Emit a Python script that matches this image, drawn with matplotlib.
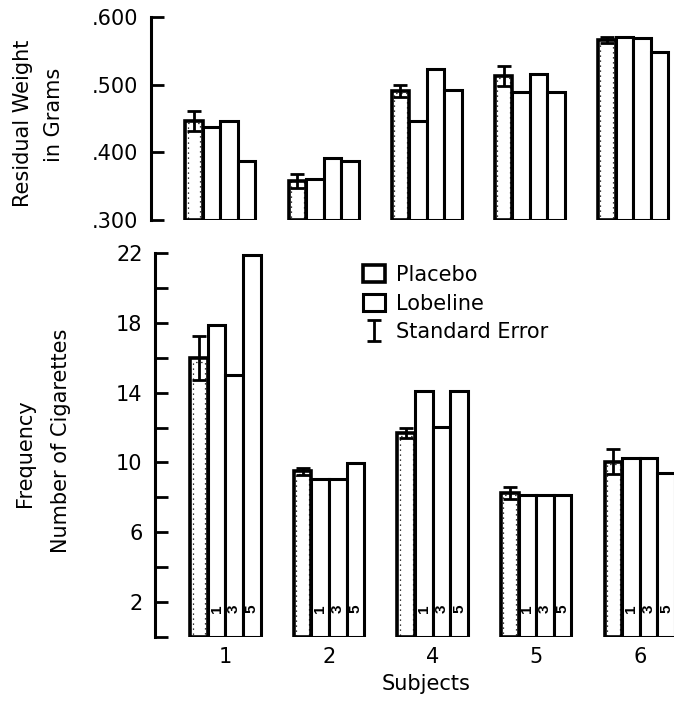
import matplotlib
matplotlib.use('Agg')
import matplotlib.pyplot as plt
import numpy as np
from matplotlib.patches import Patch

# ---------------- data ----------------
subjects = ['1', '2', '4', '5', '6']
dose_labels = ['1', '3', '5']

weight_placebo = [0.446, 0.358, 0.491, 0.513, 0.566]
weight_placebo_se = [0.015, 0.010, 0.009, 0.015, 0.005]
weight_lob1 = [0.437, 0.360, 0.447, 0.489, 0.571]
weight_lob3 = [0.446, 0.392, 0.523, 0.516, 0.569]
weight_lob5 = [0.387, 0.387, 0.492, 0.489, 0.549]

freq_placebo = [16.0, 9.5, 11.7, 8.25, 10.05]
freq_placebo_se = [1.25, 0.2, 0.3, 0.35, 0.7]
freq_lob1 = [17.9, 9.05, 14.1, 8.15, 10.25]
freq_lob3 = [15.0, 9.05, 12.05, 8.15, 10.25]
freq_lob5 = [21.9, 9.95, 14.1, 8.15, 9.4]

weight_ticks = [0.300, 0.400, 0.500, 0.600]
weight_ticklabels = ['.300', '.400', '.500', '.600']
freq_ticks = [0, 2, 4, 6, 8, 10, 12, 14, 16, 18, 20, 22]
freq_ticklabels = ['', '2', '', '6', '', '10', '', '14', '', '18', '', '22']

# ---------------- style ----------------
plt.rcParams['font.family'] = ['DejaVu Sans']
FS = 15
LW = 2.2
W = 0.17
OFFS = [-1.5, -0.5, 0.5, 1.5]

FW, FH = 674, 703
fig = plt.figure(figsize=(FW / 100, FH / 100), dpi=100)


def px_axes(left, top, right, bottom):
    return fig.add_axes([left / FW, 1 - bottom / FH, (right - left) / FW, (bottom - top) / FH])


ax1 = px_axes(151, 17, 674, 220)
ax2 = px_axes(155, 253, 674, 637)


def draw_panel(ax, plac, se, lobs, base):
    x = np.arange(len(subjects))
    xp = x + OFFS[0] * W
    plac = np.asarray(plac)
    ax.bar(xp, plac - base, W, bottom=base, facecolor='white', edgecolor='black',
           linewidth=LW + 0.4, zorder=2)
    ax.bar(xp, (plac - base) * 0.985, W * 0.72, bottom=base, fill=False, edgecolor='black',
           linewidth=0.9, linestyle=(0, (1, 3)), zorder=3)
    for k, vals in enumerate(lobs):
        vals = np.asarray(vals)
        ax.bar(x + OFFS[k + 1] * W, vals - base, W, bottom=base, facecolor='white',
               edgecolor='black', linewidth=LW, zorder=2)
    eb = ax.errorbar(xp, plac, yerr=se, fmt='none', ecolor='black', elinewidth=2,
                     capsize=5, capthick=2, zorder=4)
    return eb


draw_panel(ax1, weight_placebo, weight_placebo_se,
           [weight_lob1, weight_lob3, weight_lob5], 0.300)
eb = draw_panel(ax2, freq_placebo, freq_placebo_se,
                [freq_lob1, freq_lob3, freq_lob5], 0.0)

# dose labels inside lobeline bars
for i in range(len(subjects)):
    for k, lab in enumerate(dose_labels):
        ax2.text(i + OFFS[k + 1] * W, 1.6, lab, rotation=90, ha='center', va='center',
                 fontsize=11, fontweight='bold', family=['Liberation Sans'], zorder=5)

for ax in (ax1, ax2):
    for s in ('top', 'right', 'bottom'):
        ax.spines[s].set_visible(False)
    ax.spines['left'].set_linewidth(LW)
    ax.tick_params(axis='y', direction='in', length=9, width=2, labelsize=FS, pad=9)

ax1.set_ylim(0.300, 0.600)
ax1.set_yticks(weight_ticks)
ax1.set_yticklabels(weight_ticklabels)
ax1.set_xlim(-0.673, 4.397)
ax1.set_xticks([])

ax2.set_ylim(0, 22)
ax2.set_yticks(freq_ticks)
ax2.set_yticklabels(freq_ticklabels)
ax2.set_xlim(-0.679, 4.33)
ax2.set_xticks(np.arange(len(subjects)))
ax2.set_xticklabels(subjects)
ax2.tick_params(axis='x', length=0, labelsize=FS, pad=7)

# axis titles
fig.text(23 / FW, 1 - 123 / FH, 'Residual Weight', rotation=90, ha='center', va='center', fontsize=FS)
fig.text(54 / FW, 1 - 115 / FH, 'in Grams', rotation=90, ha='center', va='center', fontsize=FS)
fig.text(25 / FW, 1 - 453 / FH, 'Frequency', rotation=90, ha='center', va='center', fontsize=FS)
fig.text(61 / FW, 1 - 441 / FH, 'Number of Cigarettes', rotation=90, ha='center', va='center', fontsize=FS)
fig.text(426 / FW, 1 - 684 / FH, 'Subjects', ha='center', va='center', fontsize=FS)

# legend
h_plac = Patch(facecolor='white', edgecolor='black', linewidth=LW + 0.4)
h_lob = Patch(facecolor='white', edgecolor='black', linewidth=LW)
ax2.legend(handles=[h_plac, h_lob, eb], labels=['Placebo', 'Lobeline', 'Standard Error'],
           loc='upper left', bbox_to_anchor=(363 / FW, 1 - 265 / FH),
           bbox_transform=fig.transFigure, frameon=False, fontsize=FS,
           handlelength=1.05, handleheight=0.87, handletextpad=0.55,
           labelspacing=0.42, borderpad=0, borderaxespad=0)

fig.savefig('out.png', dpi=100)
